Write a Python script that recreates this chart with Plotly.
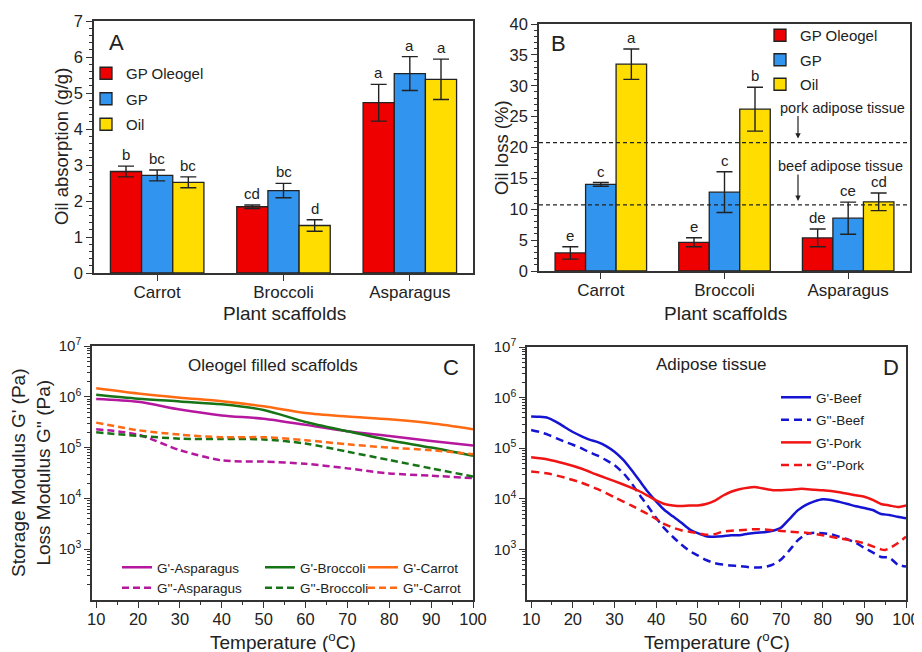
import plotly.graph_objects as go

# page geometry: the figure sits inside the page's default 8px body margin
PAGE_OFF = 8
W, H = 922 - PAGE_OFF, 652 - PAGE_OFF
FONT = "Liberation Sans, Arial, sans-serif"
INK = "#222222"

# ---------------- data: panels A and B ----------------
categories = ["Carrot", "Broccoli", "Asparagus"]
series_names = ["GP Oleogel", "GP", "Oil"]
bar_colors = ["#EE0000", "#3194EF", "#FFDD00"]

absorption_oleogel = [2.82, 1.84, 4.73]
absorption_gp = [2.71, 2.29, 5.54]
absorption_oil = [2.52, 1.32, 5.38]
absorption_err_oleogel = [0.15, 0.05, 0.51]
absorption_err_gp = [0.15, 0.20, 0.47]
absorption_err_oil = [0.15, 0.16, 0.56]
absorption_letters_oleogel = ["b", "cd", "a"]
absorption_letters_gp = ["bc", "bc", "a"]
absorption_letters_oil = ["bc", "d", "a"]

loss_oleogel = [2.92, 4.65, 5.36]
loss_gp = [14.02, 12.77, 8.55]
loss_oil = [33.5, 26.2, 11.2]
loss_err_oleogel = [1.0, 0.73, 1.43]
loss_err_gp = [0.3, 3.3, 2.6]
loss_err_oil = [2.46, 3.55, 1.43]
loss_letters_oleogel = ["e", "e", "de"]
loss_letters_gp = ["c", "c", "ce"]
loss_letters_oil = ["a", "b", "cd"]

pork_tissue_loss = 20.8
beef_tissue_loss = 10.7

# ---------------- data: panel C (oleogel filled scaffolds) ----------------
temp_c = [10, 20, 30, 40, 50, 60, 70, 80, 90, 100]
g1_asparagus = [9.1e5, 8.0e5, 5.6e5, 4.3e5, 3.7e5, 2.8e5, 2.1e5, 1.7e5, 1.35e5, 1.1e5]
g2_asparagus = [2.3e5, 1.8e5, 8.9e4, 5.6e4, 5.3e4, 4.8e4, 3.9e4, 3.1e4, 2.8e4, 2.5e4]
g1_broccoli = [1.1e6, 9.2e5, 8.1e5, 7.1e5, 5.5e5, 3.2e5, 2.1e5, 1.4e5, 1.0e5, 6.9e4]
g2_broccoli = [2.0e5, 1.7e5, 1.5e5, 1.47e5, 1.45e5, 1.2e5, 8.3e4, 5.7e4, 3.9e4, 2.7e4]
g1_carrot = [1.47e6, 1.16e6, 9.6e5, 8.2e5, 6.5e5, 4.8e5, 4.1e5, 3.6e5, 3.0e5, 2.3e5]
g2_carrot = [3.1e5, 2.2e5, 1.8e5, 1.6e5, 1.6e5, 1.4e5, 1.16e5, 1.0e5, 8.9e4, 7.4e4]

# ---------------- data: panel D (adipose tissue) ----------------
temp_beef = [10, 12, 14, 16, 18, 20, 22, 24, 26, 28, 30, 32, 34, 36, 38, 40, 42, 44, 46, 48,
             50, 52, 54, 56, 58, 60, 62, 64, 66, 68, 70, 72, 74, 76, 78, 80, 82, 84, 86, 88,
             90, 92, 94, 96, 98, 100]
g1_beef = [4.24e5, 4.17e5, 3.98e5, 3.31e5, 2.63e5, 2.09e5, 1.74e5, 1.48e5, 1.32e5, 1.10e5,
           8.5e4, 6.0e4, 3.8e4, 2.29e4, 1.38e4, 8.9e3, 6.0e3, 4.5e3, 3.4e3, 2.5e3,
           2.09e3, 1.82e3, 1.78e3, 1.82e3, 1.91e3, 1.91e3, 2.04e3, 2.14e3, 2.19e3, 2.34e3,
           2.69e3, 3.98e3, 5.9e3, 7.6e3, 8.9e3, 9.8e3, 9.5e3, 8.7e3, 7.9e3, 7.1e3,
           6.6e3, 6.0e3, 5.0e3, 4.8e3, 4.4e3, 4.1e3]
g2_beef = [2.29e5, 2.09e5, 1.86e5, 1.58e5, 1.35e5, 1.17e5, 1.0e5, 8.3e4, 7.1e4, 5.8e4,
           4.6e4, 3.3e4, 2.09e4, 1.2e4, 7.2e3, 4.2e3, 2.6e3, 1.78e3, 1.26e3, 933,
           759, 617, 537, 501, 479, 468, 447, 437, 447, 501,
           631, 955, 1510, 2000, 2140, 2090, 2000, 1780, 1580, 1350,
           1070, 871, 708, 692, 501, 457]
temp_pork = [10, 14, 18, 22, 26, 30, 34, 36, 38, 40, 42, 44, 46, 48, 50, 52, 54, 56, 58, 60,
             62, 64, 66, 68, 70, 72, 75, 78, 80, 84, 88, 90, 92, 94, 96, 98, 100]
g1_pork = [6.6e4, 6.0e4, 5.0e4, 3.98e4, 2.95e4, 2.24e4, 1.66e4, 1.41e4, 1.15e4, 9.3e3,
           7.9e3, 7.4e3, 7.2e3, 7.4e3, 7.4e3, 7.9e3, 9.1e3, 1.15e4, 1.38e4, 1.55e4,
           1.66e4, 1.70e4, 1.58e4, 1.48e4, 1.48e4, 1.51e4, 1.58e4, 1.51e4, 1.48e4, 1.35e4,
           1.17e4, 1.10e4, 9.5e3, 7.9e3, 7.4e3, 6.9e3, 7.4e3]
temp_pork2 = [10, 14, 18, 22, 26, 30, 34, 38, 40, 42, 44, 46, 48, 50, 52, 54, 56, 58, 60, 64,
              68, 72, 76, 80, 84, 88, 90, 92, 94, 95, 96, 98, 100]
g2_pork = [3.47e4, 3.16e4, 2.63e4, 2.09e4, 1.55e4, 1.07e4, 7.4e3, 5.0e3, 3.98e3, 3.16e3,
           2.69e3, 2.40e3, 2.24e3, 2.09e3, 1.95e3, 2.0e3, 2.24e3, 2.34e3, 2.40e3, 2.51e3,
           2.40e3, 2.24e3, 2.14e3, 1.91e3, 1.66e3, 1.45e3, 1.32e3, 1.15e3, 1.0e3, 977,
           1.05e3, 1.32e3, 1.78e3]

# ---------------- tick labels ----------------
bar_yticks_a = [0, 1, 2, 3, 4, 5, 6, 7]
bar_yticks_b = [0, 5, 10, 15, 20, 25, 30, 35, 40]
temp_ticks = [10, 20, 30, 40, 50, 60, 70, 80, 90, 100]
mod_tickvals = [1e3, 1e4, 1e5, 1e6, 1e7]
mod_ticktext = ["10<sup>3</sup>", "10<sup>4</sup>", "10<sup>5</sup>", "10<sup>6</sup>", "10<sup>7</sup>"]
log_minor = [m * 10 ** e for e in range(2, 7) for m in range(2, 10)]

# ---------------- layout helpers (screen px -> paper fraction) ----------------
def fx(p):
    return (p - PAGE_OFF) / W

def fy(p):
    return 1 - (p - PAGE_OFF) / H

BARGAP = 0.26
BAR_W = (1 - BARGAP) / 3

fig = go.Figure()

abs_vals = [absorption_oleogel, absorption_gp, absorption_oil]
abs_errs = [absorption_err_oleogel, absorption_err_gp, absorption_err_oil]
abs_lets = [absorption_letters_oleogel, absorption_letters_gp, absorption_letters_oil]
loss_vals = [loss_oleogel, loss_gp, loss_oil]
loss_errs = [loss_err_oleogel, loss_err_gp, loss_err_oil]
loss_lets = [loss_letters_oleogel, loss_letters_gp, loss_letters_oil]

annotations = []
for i, name in enumerate(series_names):
    fig.add_trace(go.Bar(
        x=categories, y=abs_vals[i], name=name, xaxis="x", yaxis="y",
        marker=dict(color=bar_colors[i], line=dict(color=INK, width=1.3)),
        error_y=dict(type="data", array=abs_errs[i], color=INK, thickness=1.4, width=8),
        legend="legend", legendgroup="a%d" % i, offsetgroup=str(i)))
    fig.add_trace(go.Bar(
        x=categories, y=loss_vals[i], name=name, xaxis="x2", yaxis="y2",
        marker=dict(color=bar_colors[i], line=dict(color=INK, width=1.3)),
        error_y=dict(type="data", array=loss_errs[i], color=INK, thickness=1.4, width=8),
        legend="legend2", legendgroup="b%d" % i, offsetgroup=str(i)))
    for j in range(len(categories)):
        annotations.append(dict(
            x=j + (i - 1) * BAR_W, y=abs_vals[i][j] + abs_errs[i][j], xref="x", yref="y",
            text=abs_lets[i][j], showarrow=False, yanchor="bottom", yshift=1,
            font=dict(size=15, color=INK, family=FONT)))
        annotations.append(dict(
            x=j + (i - 1) * BAR_W, y=loss_vals[i][j] + loss_errs[i][j], xref="x2", yref="y2",
            text=loss_lets[i][j], showarrow=False, yanchor="bottom", yshift=1,
            font=dict(size=15, color=INK, family=FONT)))

# panel C lines
c_specs = [
    ("G'-Asparagus", g1_asparagus, "#B5179E", "solid", "legend3"),
    ("G''-Asparagus", g2_asparagus, "#B5179E", "7px,4px", "legend3"),
    ("G'-Broccoli", g1_broccoli, "#167316", "solid", "legend4"),
    ("G''-Broccoli", g2_broccoli, "#167316", "7px,4px", "legend4"),
    ("G'-Carrot", g1_carrot, "#FF6A13", "solid", "legend5"),
    ("G''-Carrot", g2_carrot, "#FF6A13", "7px,4px", "legend5"),
]
for name, vals, col, dash, lg in c_specs:
    fig.add_trace(go.Scatter(
        x=temp_c, y=vals, name=name, mode="lines", xaxis="x3", yaxis="y3",
        line=dict(color=col, width=2.5, dash=dash, shape="spline", smoothing=0.8),
        legend=lg))

# panel D lines
d_specs = [
    ("G'-Beef", temp_beef, g1_beef, "#1414D2", "solid"),
    ("G''-Beef", temp_beef, g2_beef, "#1414D2", "8px,5px"),
    ("G'-Pork", temp_pork, g1_pork, "#F01414", "solid"),
    ("G''-Pork", temp_pork2, g2_pork, "#F01414", "8px,5px"),
]
for k, (name, xs, vals, col, dash) in enumerate(d_specs):
    fig.add_trace(go.Scatter(
        x=xs, y=vals, name=name, mode="lines", xaxis="x4", yaxis="y4",
        line=dict(color=col, width=2.5, dash=dash, shape="spline", smoothing=0.6),
        legend="legend6", legendgroup="d%d" % k))

# ---------------- axes ----------------
def axis_common(**kw):
    d = dict(showline=True, linecolor="#333333", linewidth=1.5, mirror=True,
             ticks="outside", ticklen=6, tickwidth=1.4, tickcolor="#333333",
             showgrid=False, zeroline=False, automargin=False,
             tickfont=dict(size=17, color=INK, family=FONT))
    d.update(kw)
    return d

layout_axes = dict(
    xaxis=axis_common(domain=[fx(94), fx(473)], anchor="y", range=[-0.5, 2.5],
                      type="category", ticklabelstandoff=-3),
    yaxis=axis_common(domain=[fy(273), fy(21)], anchor="x", range=[0, 7],
                      tickvals=bar_yticks_a, tickfont=dict(size=16.5, color=INK, family=FONT),
                      minor=dict(dtick=0.2, ticks="outside", ticklen=3, tickcolor="#333333", tickwidth=1.2)),
    xaxis2=axis_common(domain=[fx(539), fx(910)], anchor="y2", range=[-0.5, 2.5],
                       type="category", ticklabelstandoff=-3),
    yaxis2=axis_common(domain=[fy(271), fy(24)], anchor="x2", range=[0, 40],
                       tickvals=bar_yticks_b, tickfont=dict(size=16.5, color=INK, family=FONT),
                       minor=dict(dtick=1, ticks="outside", ticklen=3, tickcolor="#333333", tickwidth=1.2)),
    xaxis3=axis_common(domain=[fx(92), fx(473)], anchor="y3", range=[9, 100],
                       tickvals=temp_ticks, tickfont=dict(size=16.5, color=INK, family=FONT),
                       ticklabelstandoff=-3,
                       minor=dict(tick0=5, dtick=5, ticks="outside", ticklen=3, tickcolor="#333333", tickwidth=1.2)),
    yaxis3=axis_common(domain=[fy(600), fy(346)], anchor="x3", type="log", range=[2, 7],
                       tickvals=mod_tickvals, ticktext=mod_ticktext,
                       tickfont=dict(size=15, color=INK, family=FONT),
                       minor=dict(tickmode="array", tickvals=log_minor, ticks="outside", ticklen=3,
                                  tickcolor="#333333", tickwidth=1)),
    xaxis4=axis_common(domain=[fx(527), fx(906)], anchor="y4", range=[9, 100],
                       tickvals=temp_ticks, tickfont=dict(size=16.5, color=INK, family=FONT),
                       ticklabelstandoff=-3,
                       minor=dict(tick0=5, dtick=5, ticks="outside", ticklen=3, tickcolor="#333333", tickwidth=1.2)),
    yaxis4=axis_common(domain=[fy(600), fy(347)], anchor="x4", type="log", range=[2, 7],
                       tickvals=mod_tickvals, ticktext=mod_ticktext,
                       tickfont=dict(size=15, color=INK, family=FONT),
                       minor=dict(tickmode="array", tickvals=log_minor, ticks="outside", ticklen=3,
                                  tickcolor="#333333", tickwidth=1)),
)

# ---------------- text annotations ----------------
def txt(x, y, text, size, angle=0, xanchor="center"):
    return dict(x=fx(x), y=fy(y), xref="paper", yref="paper", text=text, showarrow=False,
                textangle=angle, xanchor=xanchor, yanchor="middle",
                font=dict(size=size, color=INK, family=FONT))

annotations += [
    txt(61, 147, "Oil absorption (g/g)", 18.5, -90),
    txt(284, 314, "Plant scaffolds", 19),
    txt(501, 147, "Oil loss (%)", 18.5, -90),
    txt(725, 314, "Plant scaffolds", 19),
    txt(31, 473, "Storage Modulus G' (Pa)<br>Loss Modulus G'' (Pa)", 19, -90),
    txt(283, 641, "Temperature (<sup>o</sup>C)", 19),
    txt(717, 641, "Temperature (<sup>o</sup>C)", 19),
    txt(116, 42, "A", 22),
    txt(558, 43, "B", 22),
    txt(451, 368, "C", 22),
    txt(891, 368, "D", 22),
    txt(273, 365, "Oleogel filled scaffolds", 17),
    txt(711, 364, "Adipose tissue", 17),
    txt(842, 108, "pork adipose tissue", 14.5),
    txt(840, 166, "beef adipose tissue", 14.5),
]
arrow_x = (798 - 539) / (910 - 539)
for val in (pork_tissue_loss, beef_tissue_loss):
    annotations.append(dict(
        x=arrow_x, y=val, xref="x2 domain", yref="y2", text="", showarrow=True,
        ax=0, ay=-24 if val == pork_tissue_loss else -28, yshift=4,
        arrowhead=2, arrowsize=0.9, arrowwidth=1.2, arrowcolor=INK, standoff=0))

shapes = []
for val in (pork_tissue_loss, beef_tissue_loss):
    shapes.append(dict(type="line", xref="x2 domain", yref="y2", x0=0, x1=1, y0=val, y1=val,
                       line=dict(color=INK, width=1.2, dash="4px,3px")))

# ---------------- legends ----------------
def legend(left, top, size, gap=0):
    return dict(x=fx(left), y=fy(top), xanchor="left", yanchor="top",
                bgcolor="rgba(0,0,0,0)", borderwidth=0,
                font=dict(size=size, color=INK, family=FONT),
                traceorder="grouped" if gap else "normal", tracegroupgap=gap,
                itemclick=False, itemdoubleclick=False)

fig.update_layout(
    template="none",
    width=W, height=H, margin=dict(l=0, r=0, t=0, b=0, autoexpand=False),
    paper_bgcolor="white", plot_bgcolor="white",
    font=dict(family=FONT, color=INK),
    barmode="group", bargap=BARGAP, bargroupgap=0,
    showlegend=True,
    legend=legend(86, 57, 15, gap=3),
    legend2=legend(760, 19, 15, gap=2),
    legend3=legend(117, 552, 13.5),
    legend4=legend(260, 552, 13.5),
    legend5=legend(363, 552, 13.5),
    legend6=legend(776, 382, 13.5, gap=2),
    annotations=annotations,
    shapes=shapes,
    **layout_axes,
)

fig.write_html("out.html")
